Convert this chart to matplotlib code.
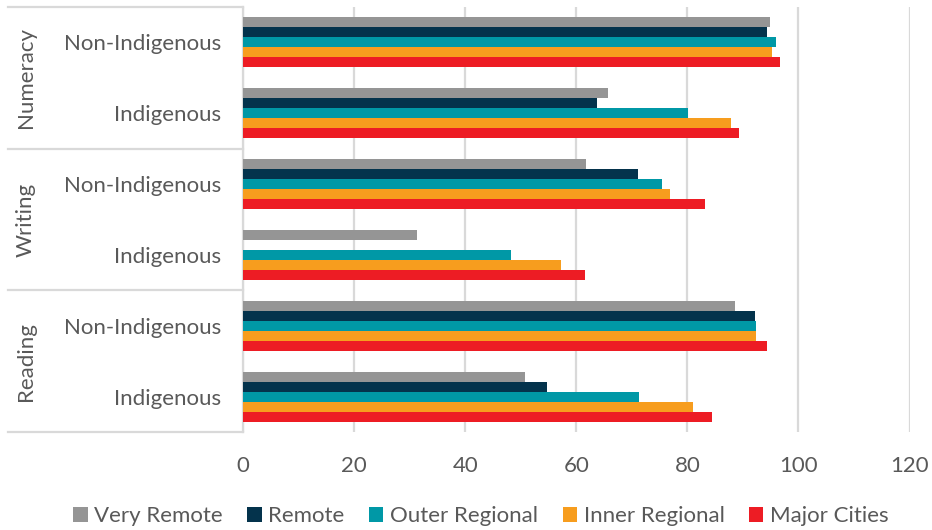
import numpy as np
import matplotlib
matplotlib.use("Agg")
import matplotlib.pyplot as plt
from matplotlib.lines import Line2D

plt.rcParams['font.family'] = ['Lato', 'DejaVu Sans']

# categories, top to bottom
subjects = ["Numeracy", "Writing", "Reading"]
groups = ["Non-Indigenous", "Indigenous"]
series = ["Very Remote", "Remote", "Outer Regional", "Inner Regional", "Major Cities"]
colors = ["#959595", "#04334c", "#0098a6", "#f79d1e", "#ed1c24"]

# values per series, rows in order:
# Num Non-Ind, Num Ind, Wri Non-Ind, Wri Ind, Rea Non-Ind, Rea Ind
very_remote = [94.8, 65.8, 61.8, 31.3, 88.6, 50.7]
remote = [94.4, 63.7, 71.2, 0.0, 92.1, 54.7]
outer_regional = [96.0, 80.2, 75.4, 48.2, 92.3, 71.3]
inner_regional = [95.3, 87.9, 76.8, 57.2, 92.3, 81.0]
major_cities = [96.7, 89.3, 83.1, 61.6, 94.4, 84.4]
values = [very_remote, remote, outer_regional, inner_regional, major_cities]

xticks = [0, 20, 40, 60, 80, 100, 120]

txt = "#595959"
line_col = "#d9d9d9"

fig = plt.figure(figsize=(9.32, 5.30), dpi=100)
ax = fig.add_axes([243 / 932, 1 - 432 / 530, 666.5 / 932, 425 / 530])

n_rows = len(subjects) * len(groups)
y = np.arange(n_rows)
h = 0.141
for i, (name, vals, c) in enumerate(zip(series, values, colors)):
    ax.barh(y + (i - 2) * h, vals, height=h, color=c, label=name, linewidth=0, zorder=3)

ax.set_xlim(0, 120)
ax.set_ylim(n_rows - 0.5, -0.5)
ax.set_xticks(xticks)
ax.set_xticklabels([str(v) for v in xticks])
ax.set_yticks(y)
ax.set_yticklabels(groups * len(subjects))
ax.grid(axis='x', color=line_col, linewidth=1.6, zorder=0)
ax.tick_params(axis='x', length=0, pad=17, labelsize=16, labelcolor=txt)
ax.tick_params(axis='y', length=0, pad=16, labelsize=16, labelcolor=txt)
for s in ['top', 'right', 'bottom']:
    ax.spines[s].set_visible(False)
ax.spines['left'].set_color(line_col)
ax.spines['left'].set_linewidth(1.6)

# multi-level category box on the left
x0 = (8 - 243) / 666.5
for yy in [-0.5, 1.5, 3.5, 5.5]:
    ax.add_line(Line2D([x0, 0], [yy, yy], color=line_col, linewidth=1.6,
                       transform=ax.get_yaxis_transform(), clip_on=False))
for k, subj in enumerate(subjects):
    ax.text(x0 + 18 / 666.5, 2 * k + 0.5, subj, rotation=90, ha='center', va='center',
            fontsize=16, color=txt, transform=ax.get_yaxis_transform())

leg = fig.legend(loc='center', bbox_to_anchor=(0.516, 1 - 516 / 530), ncol=5,
                 frameon=False, fontsize=16, handlelength=0.65, handleheight=0.65,
                 handletextpad=0.3, columnspacing=1.1, labelcolor=txt)

fig.savefig("out.png", dpi=100)
